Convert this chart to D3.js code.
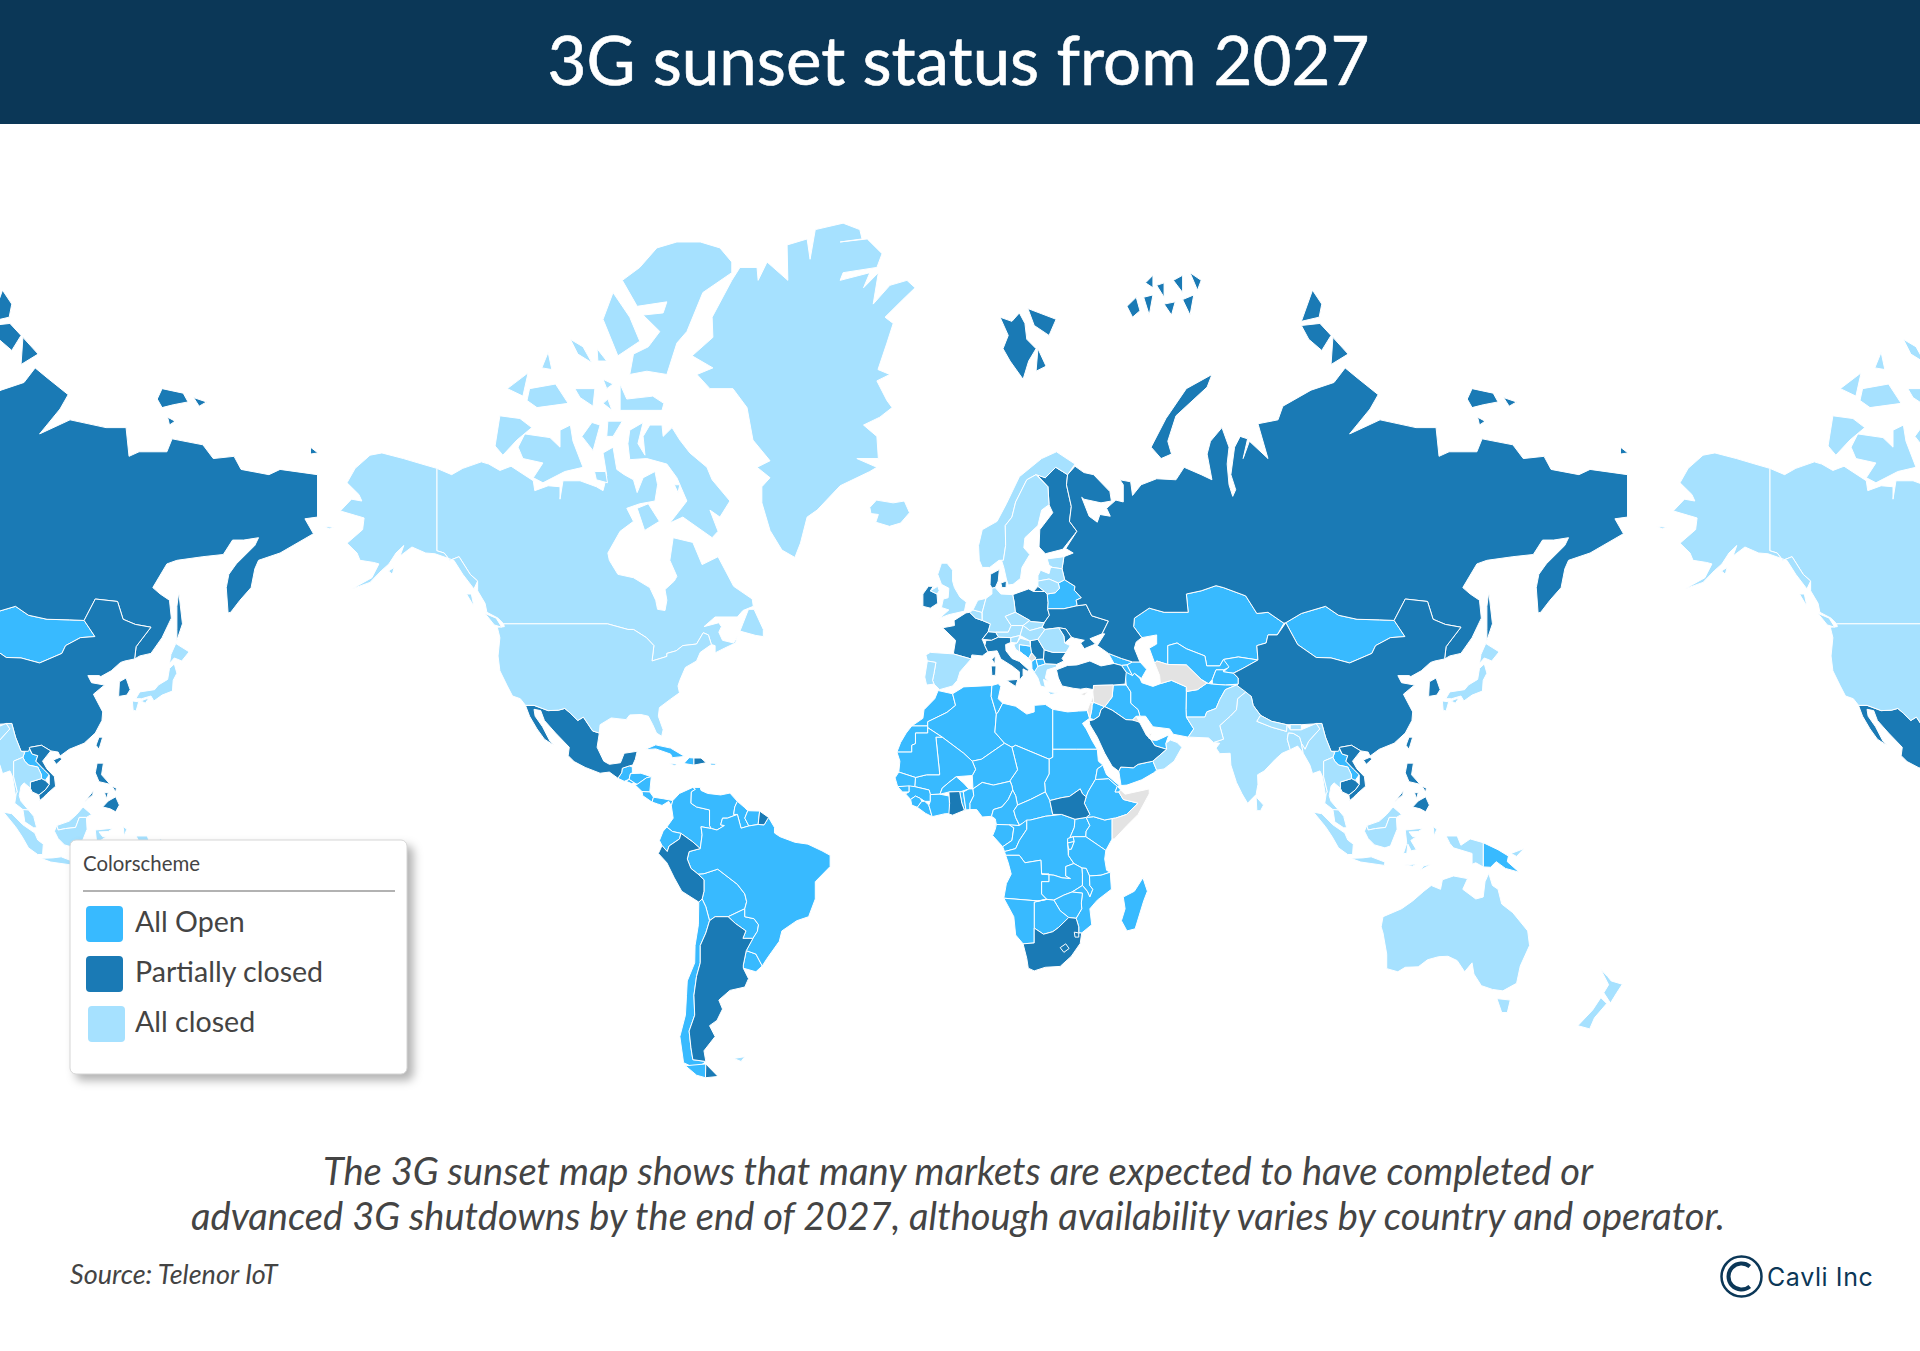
<!DOCTYPE html>
<html>
<head>
<meta charset="utf-8">
<title>3G sunset status from 2027</title>
<script src="https://cdn.jsdelivr.net/npm/d3@7"></script>
<style>
  html, body { margin: 0; padding: 0; background: #fff; }
  svg { display: block; }
  text { font-family: Lato, sans-serif; }
</style>
</head>
<body>
<svg id="chart" width="1920" height="1351"></svg>
<script>
// lon,lat outlines, one list per status
const allOpen = [
  ["Guatemala", "-92.2,14.6 -91.2,16 -91,17.2 -89.1,17.8 -88.3,17.5 -88.3,16 -88.8,15.8 -89.2,14.3 -90.5,13.8"],
  ["Honduras", "-88.8,15.8 -86,15.9 -83.2,15 -84.5,14.7 -87,13 -87.8,13.4 -89.2,14.3"],
  ["El Salvador", "-90,13.8 -89.2,14.3 -87.8,13.4 -88.5,13.2"],
  ["Nicaragua", "-83.2,15 -83.6,11 -85.7,11.1 -87.6,12.9 -87,13 -84.5,14.7"],
  ["Costa Rica", "-83.6,11 -82.6,9.6 -83,8.3 -85.5,10 -85.7,11.1"],
  ["Panama", "-82.6,9.6 -80,9.2 -77.4,8.7 -77.8,7.3 -78.5,8.5 -80.3,7.4 -81.5,7.8 -83,8.3"],
  ["Cuba", "-85,21.9 -82,23.1 -78,22.3 -74.2,20.2 -77.5,19.9 -78,20.8 -82,22.1"],
  ["Haiti", "-74.4,18.4 -71.7,18 -71.7,19.8 -73,19.9"],
  ["Jamaica", "-78.3,18.4 -76.3,18.2 -76.8,17.8"],
  ["Puerto Rico", "-67.2,18.5 -65.6,18.4 -66,18 -67.2,18"],
  ["Colombia", "-77.4,8.7 -75.6,10.6 -72,12.2 -71.3,11.7 -72.4,11 -72.5,8 -71,7 -67.5,6.2 -67.5,2 -67,1.2 -69.8,1.7 -69.5,-0.5 -70,-4.2 -72,-2.4 -75.2,-0.1 -77.5,0.4 -79,1.6 -77.3,4 -77.8,7.3"],
  ["Venezuela", "-72,12.2 -70,12.2 -69.8,11.4 -68,10.6 -64.5,10.2 -62,10.7 -60,8.5 -60.7,7 -61,5 -60,5 -62.7,4 -64,4 -64.5,2.2 -63.5,2 -65.5,0.8 -67,1.2 -67.5,2 -67.5,6.2 -71,7 -72.5,8 -72.4,11 -71.3,11.7"],
  ["Guyana", "-60,8.5 -58,6.8 -57.2,6 -58,4 -56.9,1.9 -59,1.3 -60,5 -61,5 -60.7,7"],
  ["Suriname", "-57.2,6 -54,5.9 -54.4,2.3 -56.9,1.9 -58,4"],
  ["Ecuador", "-79,1.6 -77.5,0.4 -75.2,-0.1 -75.6,-1.6 -78.4,-3.5 -78.9,-5 -80.3,-3.4 -81,-2 -80,0.5"],
  ["Bolivia", "-69,-12.5 -70.6,-11 -69,-10.9 -65.3,-9.7 -60,-13.7 -58,-16.2 -57.5,-18.2 -58,-20 -62.5,-22 -66,-22 -67.5,-23 -68.5,-19.5 -69.5,-17.5 -69,-15.5"],
  ["Paraguay", "-58,-20 -62.5,-22 -60.5,-23.7 -57.7,-25.5 -58.5,-27.3 -55.8,-27.3 -54.6,-25.6 -54.3,-24 -55.5,-22.5 -58,-22"],
  ["Uruguay", "-58.4,-33.5 -57.6,-30.2 -55,-31 -53.3,-33.7 -55,-35 -58.4,-34.2"],
  ["Brazil", "-51.6,4.2 -50,1.5 -50,0 -48.5,-1 -44.5,-2.5 -41,-3 -37.2,-4.8 -35,-6 -35,-9 -39,-13 -39,-17.5 -40.8,-22 -44,-23 -48,-25.5 -48.7,-28 -52,-32 -53.3,-33.7 -55,-31 -57.6,-30.2 -55.8,-27.3 -54.6,-25.6 -54.3,-24 -55.5,-22.5 -58,-22 -58,-20 -57.5,-18.2 -58,-16.2 -60,-13.7 -65.3,-9.7 -69,-10.9 -70.6,-11 -72.5,-9.5 -73.5,-7 -73,-5 -70,-4.2 -69.5,-0.5 -69.8,1.7 -67,1.2 -65.5,0.8 -63.5,2 -64.5,2.2 -64,4 -62.7,4 -60,5 -59,1.3 -56.9,1.9 -54.4,2.3 -52.8,2.2"],
  ["Chile", "-70.4,-18.3 -69.5,-17.5 -68.5,-19.5 -67.5,-23 -68.5,-26 -70,-29 -70,-33 -71,-36 -71.7,-40 -71.5,-44 -73,-47 -72.5,-50 -72,-52 -68.5,-52.3 -71,-53.5 -74.5,-52.5 -75.5,-48 -74,-44 -73.7,-40 -73.5,-37 -71.5,-33 -71.4,-29 -70.5,-24"],
  ["Tierra del Fuego W", "-68.5,-52.7 -68.6,-54.9 -71,-54.5 -74,-53"],
  ["Belarus", "23.5,54 25.7,54.2 26.8,54.9 26.5,55.7 28.2,56.2 31,55.2 30.8,54.6 32.7,53.4 31.3,53 31.6,52.1 28,51.6 23.6,51.6 23.7,52.6"],
  ["Bosnia", "16,45.2 19,44.9 19.3,43.6 18.5,42.5 16,43.9"],
  ["Albania", "19.3,41.9 20.5,42.5 21,40.7 20,39.7 19.4,40.5"],
  ["North Macedonia", "20.5,42.3 22.5,42.4 23,41.4 21,40.9"],
  ["Morocco", "-5.9,35.8 -2,35.1 -1.2,32.5 -3.5,30.9 -8.7,28.7 -8.7,27.7 -13,27.7 -10,29.5 -9.7,31.5 -6.8,34"],
  ["Western Sahara", "-13,27.7 -8.7,27.7 -8.7,26 -12,26 -12,23.4 -13,23 -13,21.3 -17,21.3 -16,23.7 -14.5,26"],
  ["Algeria", "-2,35.1 1,36.6 8.6,36.9 8.4,34.5 9.8,30.5 9.4,26.2 12,23.5 5.8,19.5 3.3,19 1,21 -4.8,25 -8.7,27.3 -8.7,28.7 -3.5,30.9 -1.2,32.5"],
  ["Tunisia", "8.6,36.9 10.3,37.3 11,36.7 10.3,34 11.5,33 10.3,31 9.8,30.5 8.4,34.5"],
  ["Libya", "11.5,33 15,32.3 18,30.5 20,31 20,32.5 23,32.7 25,31.6 25,20 24,19.5 15,23 14,22.5 12,23.5 9.4,26.2 9.8,30.5 10.3,31"],
  ["Egypt", "25,31.6 29,31 32,31.2 34.3,31.3 34.9,29.5 33,28.3 34,27 35.7,24 37,22 31.5,22 25,22"],
  ["Sudan", "25,22 31.5,22 37,22 37.3,19 38.5,18 37,17 36.5,14.3 34.5,11 34,9.7 33,10.5 32.4,11.8 29.5,9.8 27.5,9.5 24.2,8.7 23,11 22.8,13.5 24,15.7 24,19.5 25,20"],
  ["Chad", "14,22.5 15,23 24,19.5 24,15.7 22.8,13.5 23,11 19,9 15.5,7.5 15,10 14.2,11.5 14,12.6 13.5,14 15.5,16.8"],
  ["Niger", "3.3,15.3 3.5,11.8 6,13.5 9,12.8 13.5,13.8 13.5,14 15.5,16.8 14,22.5 12,23.5 5.8,19.5 3.3,19 4.2,16.9"],
  ["Mali", "-12,14.8 -12.2,12.4 -8.3,11.5 -8,10.3 -5.4,10.4 -4.8,12 -3,13.5 -1,15 3.3,15.3 4.2,16.9 3.3,19 1,21 -4.8,25 -6.5,25 -5.5,16 -5.5,15.5 -9,15.5"],
  ["Mauritania", "-17,21.3 -13,21.3 -13,23 -12,23.4 -12,26 -8.7,26 -8.7,27.3 -4.8,25 -6.5,25 -5.5,16 -5.5,15.5 -9,15.5 -12,14.8 -16.5,16.2 -16.2,19"],
  ["Senegal", "-16.5,16.2 -12,14.8 -12.2,12.4 -16.8,12.4 -17.5,14.7"],
  ["Guinea Bissau", "-16.8,12.4 -13.7,12.6 -13.7,11 -15.5,11"],
  ["Guinea", "-13.7,12.6 -12.2,12.4 -8.3,11.5 -8,10.3 -8,8.5 -9.5,8.5 -10.7,9.3 -12,9.9 -13.3,9 -14.7,10.5 -13.7,11"],
  ["Sierra Leone", "-13.3,9 -12,9.9 -10.7,9.3 -10.3,8.5 -11.5,6.9 -13,7.5"],
  ["Liberia", "-11.5,6.9 -10.3,8.5 -9.5,8.5 -8.4,7.5 -7.5,4.4 -9.3,5.3"],
  ["Ivory Coast", "-8,10.3 -5.4,10.4 -2.9,9.9 -2.8,5.2 -4,5.2 -7.5,4.4 -8.4,7.5 -8,8.5"],
  ["Burkina Faso", "-5.4,10.4 -2.9,11 0,11 2.4,11.8 1,13.3 -1,15 -3,13.5 -4.8,12"],
  ["Togo", "-0.1,11.1 0.9,11 1.6,6.2 1.2,6.1 0.5,8"],
  ["Benin", "0.9,11 2.4,11.8 3.5,11.8 3.7,10 2.7,8 2.7,6.3 1.6,6.2"],
  ["Nigeria", "2.7,6.3 4.5,6.3 6,4.3 8.5,4.5 9,6.3 11.3,7 13,9 14.2,11.5 14,12.6 13.5,13.8 9,12.8 6,13.5 3.5,11.8 3.7,10 2.7,8"],
  ["Cameroon", "8.5,4.5 9.5,3.8 9.8,2.3 16,2 15,4.2 14.5,6 15.5,7.5 15,10 14.2,11.5 13,9 11.3,7 9,6.3"],
  ["Central African Republic", "15,4.2 14.5,6 15.5,7.5 19,9 23,11 24.2,8.7 25,5 27.4,5 23,4.5 19,3.5 16,2.2"],
  ["Equatorial Guinea", "9.5,2.2 11.3,2.2 11.3,1 9.5,1"],
  ["Gabon", "9.8,2.3 13.3,2.2 14.5,1.4 14,-2 11.5,-3.7 8.8,-0.7 9.5,1"],
  ["Congo", "13.3,2.2 16,2 18,3.5 18,1 16,-2 15,-4.2 12,-5 11.5,-3.7 14,-2 14.5,1.4"],
  ["DR Congo", "18,3.5 19,3.5 23,4.5 27.4,5 31,3.7 30.8,1.5 29.6,-1.3 29,-2.7 29.2,-6 30.7,-8.2 28.5,-9 28.5,-11.5 29.8,-12.2 27.5,-12 25.3,-11.3 22,-11 21.8,-7.3 17.5,-8 16,-6 12.3,-6 12,-5 15,-4.2 16,-2 18,1"],
  ["Uganda", "31,3.7 34,4.2 35,2 34,0.5 33.9,-1 30.5,-1 29.6,-1.3 30.8,1.5"],
  ["Rwanda", "29,-1.5 30.5,-1 30.8,-2.3 29,-2.7"],
  ["Burundi", "29,-2.7 30.8,-2.3 30,-4.4 29.3,-4.4"],
  ["Kenya", "34,4.2 36,4.4 39,3.5 41,3.9 41,-1.6 39.3,-4.7 37.7,-3.6 33.9,-1 34,0.5 35,2"],
  ["Tanzania", "30.5,-1 33.9,-1 37.7,-3.6 39.3,-4.7 39,-7 39.5,-10 40.5,-10.5 38,-11.3 34.9,-11.5 34,-9.5 32.9,-9.4 30.7,-8.2 29.2,-6 29.3,-4.4 30,-4.4 30.8,-2.3"],
  ["Ethiopia", "36.5,14.3 37,14.3 40,14.5 42.4,12.5 41.8,11 42.8,11 44,9 48,8 44.9,5 41.9,4 41,3.9 39,3.5 36,4.4 34,4.2 35,5 33.5,8 34,9.7 34.5,11"],
  ["Eritrea", "37,17 38.5,18 39.5,15.5 43,12.6 42.4,12.5 40,14.5 37,14.3 36.5,14.3"],
  ["Djibouti", "41.8,11 42.4,12.5 43.3,11.5 42.8,11"],
  ["Angola", "12.3,-6 16,-6 17.5,-8 21.8,-7.3 22,-11 24,-11 24,-13 22,-13 22,-16.2 23.4,-17.6 21,-18 11.8,-17.3 12.5,-13.5 13.8,-11 13,-8"],
  ["Zambia", "22,-11 25.3,-11.3 27.5,-12 29.8,-12.2 28.5,-11.5 28.5,-9 30.7,-8.2 32.9,-9.4 33,-11 33,-14 30.2,-15.7 28,-16.5 25.3,-17.8 23.4,-17.6 22,-16.2 22,-13 24,-13 24,-11"],
  ["Malawi", "32.9,-9.4 34,-9.5 34.9,-11.5 35,-14 35.8,-15 35,-17 34.3,-15.5 33,-14 33,-11"],
  ["Mozambique", "40.5,-10.5 40.8,-15 37,-17.8 35,-20 35.5,-24 32.8,-26 32,-26 32,-24.5 31.3,-22.4 32.8,-20 32.7,-18.5 33,-16 30.2,-15.7 33,-14 34.3,-15.5 35,-17 35.8,-15 35,-14 34.9,-11.5 38,-11.3"],
  ["Zimbabwe", "25.3,-17.8 28,-16.5 30.2,-15.7 33,-16 32.7,-18.5 32.8,-20 31.3,-22.4 29.3,-22.2 27,-20.5"],
  ["Botswana", "20,-18.3 23.4,-17.6 25.3,-17.8 27,-20.5 29.3,-22.2 26.5,-24.7 25,-25.7 22.5,-26.3 20,-24.8"],
  ["Namibia", "11.8,-17.3 21,-18 23.4,-17.6 20,-18.3 20,-24.8 20,-28.4 17,-28.6 15,-26.5 14.5,-22"],
  ["Madagascar", "49.3,-12 50.5,-15.5 49.5,-18 47.2,-25 45,-25.5 43.5,-23 44.5,-20 44,-17 47,-15.5"],
  ["Mongolia", "87.8,49.2 92,50.8 98.5,52 102,50.5 107,49.8 113,49.7 117,49.6 119.9,46.7 116,46.5 112,45 111,43.5 105,41.6 100,42.6 96,42.7 91,45.2"],
  ["Kazakhstan", "47,50 51,51.7 55,51 61.5,51 61,54 65,54.5 69,55.3 71,55 77,53.7 80,50.8 83,51 87.3,49.1 85.5,47 83,47 82.5,45.5 80,45 80.3,42.2 75,42.8 71,42.3 70,41 66.5,41 66,43 61,44.4 58.5,45.5 56,45 56,41.3 53,42 52.5,41.5 51,44.5 53,45.3 53,47 49,46.5 46.8,48.5"],
  ["Uzbekistan", "56,45 58.5,45.5 61,44.4 66,43 66.5,41 70,41 71,42.3 73,40.8 71,40.2 69,40.2 68,38.2 67,37.3 65,38.2 61,41.2 56,41.3"],
  ["Kyrgyzstan", "71,42.3 75,42.8 80.3,42.2 76,40.4 73.6,39.5 71,39.8 72.5,40.8"],
  ["Tajikistan", "68,38.2 69,40.2 71,40.2 71,39.8 73.6,39.5 75,38.5 75,37.2 71.5,37 68,37.2"],
  ["Afghanistan", "61,35.6 64,36 66.5,37.4 68,37.2 71.5,37 74.5,37 71.5,36 70,33.8 69,31.8 66.5,31 66,29.8 61,29.8 60.9,31.5"],
  ["Iran", "44.5,39.7 47,39.5 48.5,38.4 49,37.5 52,36.7 54,37.3 57,38 61,36.6 61,35.6 60.9,31.5 61,29.8 63,27 61.5,25 57.5,25.7 56.5,27 52,27.5 50,30 48.5,30 48,31.5 46,33 46,35.5 44.8,37"],
  ["Iraq", "44.8,37 46,35.5 46,33 48,31.5 48.5,30 47.5,30 46.5,29.1 44.7,29.2 41,31.4 39,32.2 41,34.4 41.3,37"],
  ["Jordan", "35,29.5 36.1,29.2 37.5,30 38,31.5 39,32.2 36,33.2 35.6,32.5 35.5,31.5"],
  ["Yemen", "42.8,16.4 43.4,12.7 45,12.8 49,14.2 52.2,16 53,16.7 52,19 48,18.2 46.7,17.3 43.3,17.5"],
  ["UAE", "51.5,24.3 52.5,22.9 55.7,22 55.5,23.5 56.3,25.6 55,25 53,24.2"],
  ["Georgia", "40,43.5 43.5,42.5 46.5,41.8 45,41.2 43.5,41.1 41.5,41.5"],
  ["Armenia", "43.5,41.1 45,41.2 46.5,39 44.8,39.7"],
  ["Azerbaijan", "45,41.2 46.5,41.8 48.5,41.8 50.3,40.3 48.9,38.4 47,39.5 46.5,39"],
  ["Laos", "100.5,20 101,21.3 102,22.4 103,20.8 104.5,20.4 104,19 106,17 107.6,15.5 106.5,14 105.5,14.5 105.5,15.5 104.5,17.5 102,18 101,19"],
  ["Papua New Guinea", "141,-2.6 145,-4.5 147.8,-6.2 147.5,-7.7 150.7,-10.5 147,-9.5 144.5,-7.7 143,-9.2 141,-9.1"]
];

const partiallyClosed = [
  ["Mexico", "-117.1,32.5 -114.8,32.5 -111,31.3 -108.2,31.4 -106.5,31.8 -105,30.7 -103,29 -101.5,29.8 -99,26.5 -97.2,26 -97.8,22.5 -96,19 -94.5,18.2 -91.5,18.6 -90.5,21 -87,21.5 -87.5,19.5 -88.2,18 -89.1,17.8 -91,17.2 -91.2,16 -92.2,14.6 -94.5,16.2 -97,15.9 -101,17.4 -104,18.9 -105.6,20.4 -105.3,22.5 -109,26 -112,29 -113,31.3 -114.8,31.6 -114.5,30 -112.5,27.5 -110.5,24 -109.5,23 -112,24.5 -114,27 -116,30"],
  ["Dominican Republic", "-71.7,18 -68.4,18.6 -69.8,19.8 -71.7,19.8"],
  ["French Guiana", "-54,5.9 -51.6,4.2 -52.8,2.2 -54.4,2.3"],
  ["Peru", "-80.3,-3.4 -78.9,-5 -78.4,-3.5 -75.6,-1.6 -75.2,-0.1 -72,-2.4 -70,-4.2 -73,-5 -73.5,-7 -72.5,-9.5 -70.6,-11 -69,-12.5 -69,-15.5 -69.5,-17.5 -70.4,-18.3 -75,-15.5 -77,-12 -79,-8 -81.3,-5.5"],
  ["Argentina", "-66,-22 -62.5,-22 -60.5,-23.7 -57.7,-25.5 -58.5,-27.3 -55.8,-27.3 -57.6,-30.2 -58.4,-33.5 -58.4,-34.2 -57,-36.5 -58,-38.3 -62,-39 -65,-41 -64,-42.8 -65.5,-45 -67.5,-46 -66,-48 -69,-50.5 -68.5,-52.3 -72,-52 -72.5,-50 -73,-47 -71.5,-44 -71.7,-40 -71,-36 -70,-33 -70,-29 -68.5,-26 -67.5,-23"],
  ["Tierra del Fuego E", "-68.5,-52.7 -65.2,-54.7 -68.6,-54.9"],
  ["Ireland", "-10,52 -10,54 -8.5,55.2 -7.2,55.2 -8,54.5 -6.2,54 -6,52.5 -8,51.7"],
  ["France", "-1.8,43.4 -1.2,46 -4.7,48.3 -1.5,48.7 -1.6,49.6 1.6,50.9 2.6,51 4.2,50 6,49.6 8.2,49 7.6,47.6 6,46.2 6.7,45 7.5,43.8 6,43 3.2,43.2 3,42.4"],
  ["Corsica", "8.6,42.3 9.5,43 9.4,41.4"],
  ["Switzerland", "6,46.2 7.6,47.6 9.6,47.5 10.4,46.6 8.5,46"],
  ["Italy", "6.7,45 7,46 8.5,46 10.4,46.6 13.7,46.5 13.7,45.6 12.3,45.2 12.4,44 14,42.5 16,41.9 18.5,40.2 18.2,39.9 17,40.4 17,39 16,38 16,39.8 14,41 11,42.4 10,44 7.5,43.8"],
  ["Sicily", "12.5,38 15.6,38.2 15,36.7"],
  ["Sardinia", "8.4,41 9.7,41 9.6,39.1 8.6,39"],
  ["Denmark", "8.1,55.5 8.2,57 10.6,57.7 10.3,56 9.5,55 8.6,54.9"],
  ["Zealand", "11,55.7 12.5,56 12.4,55 11.3,55"],
  ["Poland", "14.2,53.9 18.5,54.8 19.8,54.4 22.8,54.4 23.5,54 23.7,52.6 23.6,51.6 24.1,50.5 22.7,49.2 19,49.4 18.8,49.6 14.9,51 14.6,52.7"],
  ["Ukraine", "24.1,50.5 23.6,51.6 28,51.6 31.6,52.1 34,52.3 35.5,50.4 38,49.9 40,49.5 38.3,47.2 35,46.3 36.5,45.3 33.5,44.4 32.5,45.5 33.5,46 30.8,46.4 30,46.6 28.5,48.1 26.6,48.3 22.9,48 22.1,48.4 22.7,49.2"],
  ["Moldova", "26.6,48.3 28.5,48.1 30,46.6 28.2,45.5 28,46.8"],
  ["Finland", "20.7,69 23,68.7 25.8,69.7 29,69 28.7,68 30,65.7 29.5,64 31.5,62.8 27.7,60.5 23,59.9 21.3,60.8 21.5,63 25,65 24,65.9 23.7,67.8"],
  ["Spitsbergen", "10.8,79.9 14,79.7 16,80.1 17.5,79.6 18,78.8 20.5,78.3 18.5,77.6 17,76.5 13.5,77.6 11.6,78.3 13,79"],
  ["Nordaustlandet", "18.3,80.3 25.9,79.8 24,79 20,79.5"],
  ["Edgeoya", "21,78.3 23.2,77.3 20.5,77"],
  ["Russia", "31,69.8 33.4,69.2 36,69 40.4,67.3 40.8,66.3 38,66.1 33.4,66.5 32.8,66.7 34.8,64.6 37,63.9 37.7,64.8 40.5,64.6 39.5,65.5 42,66.4 44,66.2 44,68 43.1,68.5 46,68.3 46.5,66.9 48.8,68 53,68.6 58.2,68.5 60.4,69.7 65,69 67.9,68.5 66.6,70.9 67.5,72 70.6,73.1 72.5,71.5 72,70 72.5,68 73.5,66.8 74.3,67.5 73,69 74,71.5 75.5,72.4 77.5,72.2 76.3,70.5 78,72 83,70.5 80.3,73.4 85.7,73.7 87,74.7 94.6,75.8 100.8,76.3 103.8,77.2 107,76.6 112.7,75.5 110.5,74.5 105,72.6 113.2,73.7 122.9,73.1 128.3,73.1 129.1,70.7 131.8,71.1 139.3,71.1 140.7,72.2 149,71.7 151.8,70.5 157.4,70.7 159.3,69.5 166.8,69 169.8,69.5 179.9,69 179.9,64.5 176.5,64.3 178.8,62.5 169.8,60 164,59 163,57.8 162,55 159,53 156.5,51 155.8,50.9 155.3,55 156,57 158,58.5 163,61 164,62 160,61.7 157,61.7 154.5,59.8 149,59.5 142,59 139.3,58.5 135.5,55 137.5,54 140,53 140.5,50 138,46.5 135,43.5 132,43 130.6,42.4 131,44.8 135,48.4 130.8,48.9 127.5,49.8 126,52.8 120,53.2 117,49.6 113,49.7 107,49.8 102,50.5 98.5,52 92,50.8 87.8,49.2 87.3,49.1 83,51 80,50.8 77,53.7 71,55 69,55.3 65,54.5 61,54 61.5,51 55,51 51,51.7 47,50 46.8,48.5 49,46.5 47.5,45.7 47,44.5 48.5,41.8 46.5,41.8 43.5,42.5 40,43.5 37,45 39,47.2 38.3,47.2 40,49.5 38,49.9 35.5,50.4 34,52.3 31.6,52.1 31.3,53 32.7,53.4 30.8,54.6 31,55.2 28.2,56.2 27.5,57.8 28,59.5 30.5,60 28.5,60.6 31.5,62.8 29.5,64 30,65.7 28.7,68 29,69"],
  ["Novaya Zemlya", "67.9,76.8 61,75.9 55.5,73.8 51.5,71.5 54.2,70.5 57,70.9 56,72 58.2,74 66.6,76"],
  ["Komsomolets", "95,81.1 97.5,80.5 96.8,79.9 92,79.7"],
  ["October Revolution", "92,79.5 97,79.6 100,79 97.5,78.2 94,78.8"],
  ["Bolshevik", "100.5,78.9 104.6,78 100,77.4"],
  ["Kotelny", "136.7,75.2 138,75.9 143.7,75.6 145,75 141,74.8 138,74.6"],
  ["New Siberia", "146.5,75.3 150,75 148,74.7"],
  ["Lyakhovsky", "139.5,73.9 141.5,73.6 140,73.3"],
  ["Wrangel", "178,71.5 180,71 178,70.9"],
  ["Sakhalin", "142.5,54.3 143.5,49 142,46 142,48 142,52"],
  ["Kaliningrad", "19.8,54.4 22.8,54.4 21,55.2"],
  ["Franz Josef 1", "45,80.4 47.5,80.8 48.5,80.2 46.5,79.9"],
  ["Franz Josef 2", "49.5,80.8 52,80.9 51,80"],
  ["Franz Josef 3", "53,81.3 55,81.4 55,80.8"],
  ["Franz Josef 4", "55,80.5 58,80.6 57,80"],
  ["Franz Josef 5", "57.5,81.5 60,81.7 60,81"],
  ["Franz Josef 6", "60,80.7 63,80.9 62,80"],
  ["Franz Josef 7", "62,81.8 65,81.5 64,81.1"],
  ["Franz Josef 8", "50,81.4 52,81.7 52,81.2"],
  ["Turkey", "26,40.2 29,41.1 31.5,41.2 35,42 38,41 41.5,41.5 43.5,41.1 44.8,39.7 44.5,37.2 41.3,37 36,36.9 36,36 34,36.3 32.5,36.1 30.5,36.3 27.5,36.8 26.5,38.5"],
  ["Serbia", "19,46 21,46.2 22.7,44.2 22.5,42.4 20.5,42.3 19.3,43.6 19,44.9"],
  ["Bulgaria", "22.7,44.2 25,43.7 28.6,43.7 27.5,42.5 28,42 26,41.3 23,41.4 22.5,42.4"],
  ["Saudi Arabia", "35,28 37,25 39,21 41,17.7 42.8,16.4 43.3,17.5 46.7,17.3 48,18.2 52,19 55.7,22 52.5,22.9 51.5,24.3 50.2,25.5 48.5,28.4 47.5,29.2 46.5,29.1 44.7,29.2 41,31.4 39,32.2 38,31.5 37.5,30 36.1,29.2 34.8,28.9"],
  ["South Sudan", "24.2,8.7 27.5,9.5 29.5,9.8 32.4,11.8 33,10.5 34,9.7 33.5,8 35,5 34,4.2 31,3.7 27.4,5 25,5"],
  ["Ghana", "-3,11 -0.1,11.1 0.5,8 1.2,6.1 -2,4.8 -3,5.1 -2.8,8"],
  ["South Africa", "17,-28.6 20,-28.4 20,-24.8 22.5,-26.3 25,-25.7 26.5,-24.7 29.3,-22.2 31.3,-22.4 32,-24.5 32,-26 32.8,-26 32.4,-28.5 30,-31.5 27,-33.8 23,-34 20,-34.8 18.4,-34.2 18,-32"],
  ["Lesotho", "27,-29.5 28.5,-28.6 29.4,-29.7 28,-30.6"],
  ["Eswatini", "30.8,-25.8 32,-26 32,-27 31,-27"],
  ["China", "73.7,39.5 75,38.5 75,37.2 74.5,37 76,35.7 78.5,34.5 79,32.5 81,30.2 84,28.8 88,28 92,28 97.5,28.3 98.5,25 100,21.5 102,21.5 102.5,22.5 105.5,23 108,21.6 110,21.3 110.5,20.3 113,22 117,23.5 120,26 121.8,29 122,31 119.5,35 122.5,37 119,37.5 118,39 121,39 121.5,38.8 124.3,40 126.8,41.7 128,42 130.6,42.4 131,44.8 135,48.4 130.8,48.9 127.5,49.8 126,52.8 120,53.2 117,49.6 119.9,46.7 116,46.5 112,45 111,43.5 105,41.6 100,42.6 96,42.7 91,45.2 87.8,49.2 85.5,47 83,47 82.5,45.5 80,45 80.3,42.2 76,40.4"],
  ["Hainan", "108.7,19.3 110.5,20 111,19.5 109.5,18.2"],
  ["Taiwan", "121,25 122,25 121,22 120.2,23"],
  ["South Korea", "126.5,37.7 128.3,38.5 129.4,36 128.5,34.8 126.3,34.5"],
  ["Vietnam", "102.2,22.4 102.5,22.5 105.5,23 108,21.6 105.8,19 107,17 109,15 109.3,12.5 107,10.5 106,9.5 105,8.7 104.8,10.2 106.5,11.5 107.6,13 107.6,15.5 106,17 104,19 104.5,20.4 103,20.8"],
  ["Cambodia", "102.5,13.6 105.5,14.5 106.5,14 107.6,13 106.5,11.5 104.8,10.2 103,11 102.5,12"],
  ["Luzon", "120.5,18.5 122.2,18.5 121.7,15.5 124,13 121,13.7 120,16"],
  ["Mindanao", "122,7 123.5,8.6 125.5,9.7 126.5,7.5 125.5,5.7 124,6.5"],
  ["Samar", "124.5,12.5 125.7,12 125.5,11"],
  ["Negros", "122.5,10.8 123.5,10.8 123,9.2"],
  ["Palawan", "117.2,8.4 119.5,11.3 119.3,10.2"]
];

const allClosed = [
  ["Canada", "-141,69.6 -137,69 -134,69.6 -129,70.2 -127,70 -124,69.4 -121,69.8 -115,68.4 -114.6,67.4 -111,67.9 -107.8,67.8 -107.8,66.5 -107,68.4 -102.4,68.4 -98,67.8 -96.2,67.4 -95.2,68.9 -96.2,71 -93.5,71.5 -92.5,69.5 -90.5,69 -88,68.5 -87,67.2 -85.4,68.7 -82.2,69.3 -81.5,68 -82.2,66.3 -86.3,66 -89.8,65.5 -88,64 -91.6,62.8 -94.9,60 -94.5,59 -92.2,57 -88,56.5 -83.6,55 -82,53 -81.5,51.5 -79.5,51.3 -79,53 -79.5,54.7 -77,56 -76.3,56.7 -78.2,59 -77.3,62 -72,61.4 -69.5,58.4 -65.2,59.5 -61,55.2 -56,53.2 -55.7,52 -58.5,51.3 -60,50.2 -66,50.2 -69,48.5 -65,49.2 -64.3,48.5 -65,47.5 -64,46 -61,45.5 -60,46.8 -60.5,45.5 -63.5,44.5 -66,43.6 -66,45 -67,45.2 -67.8,47 -69.2,47.4 -71,45.3 -74.7,45 -76.5,44 -79,43.5 -79,42.9 -83,42 -82.5,45 -84.5,46.5 -88,48 -89.5,48 -95,49 -123,49 -124.5,50 -127.5,51 -128,52.5 -130,54.5 -130,56 -132,57 -135,59.5 -137.5,59 -139,60 -141,60.3"],
  ["Alaska", "-141,69.6 -145,70 -150,70.5 -155.8,71 -159,70.8 -163,69.6 -165.2,68.2 -162,67 -161.2,66.3 -164,66.5 -167,65.2 -163,64.7 -160.6,64.4 -161,63 -165.2,61.3 -162.5,60 -161.7,59 -158,58.7 -156.6,58.5 -158.5,56.5 -163.9,54.8 -159,55.8 -156,57.5 -153.9,58.5 -152,60 -149.9,61 -150.9,59.6 -147.7,60.8 -144,60 -141.5,59.9 -136.4,59 -134,57 -131,54.8 -130,56 -132,57 -135,59.5 -137.5,59 -139,60 -141,60.3"],
  ["Kodiak", "-154,57.5 -152.5,58 -153,57"],
  ["St Lawrence", "-171.5,63.4 -168.8,63.3 -170,63.1"],
  ["USA", "-123,49 -95,49 -89.5,48 -88,48 -84.5,46.5 -82.5,45 -83,42 -79,42.9 -79,43.5 -76.5,44 -74.7,45 -71,45.3 -69.2,47.4 -67.8,47 -67,45.2 -70,43.7 -71,42 -74,40.7 -75.5,38 -76,36.8 -75.6,35.3 -78,33.9 -81,32 -81.3,30 -80,26.8 -80.4,25.2 -81.8,26 -82.8,28 -84,30 -86,30.4 -89,30.3 -90,29.2 -94,29.6 -97,28 -97.2,26 -99,26.5 -101.5,29.8 -103,29 -105,30.7 -106.5,31.8 -108.2,31.4 -111,31.3 -114.8,32.5 -117.1,32.5 -118.5,34 -120.6,34.6 -122,36.8 -124,40 -124.5,43 -124,46.5 -124.7,48.4 -122.8,48.5"],
  ["Greenland", "-44.5,59.4 -48,60.4 -51.2,62.9 -53.4,66.1 -53.4,67.8 -51.2,68.7 -54.7,69.7 -51.2,70.3 -55.8,72.1 -57.4,74.6 -61.2,75.9 -67.4,75.9 -70.9,76.8 -66.6,77.2 -72.2,77.9 -66.6,78.9 -66.8,79.9 -61.5,81.5 -59.3,82 -54.7,82 -54.4,81.5 -52,82.2 -46.4,81.5 -46.6,82.8 -41.2,83 -40.4,82.3 -39,83.3 -31.5,83.5 -27,83.3 -26.4,83 -32.3,82.9 -25,83 -21,82.5 -22.4,82 -31.5,81.8 -32.3,81.5 -24.3,81.8 -26,81.2 -22,81.8 -23.4,80.5 -18.9,81.3 -14.3,81.5 -12.1,81.2 -15.4,80.7 -20.2,79.9 -18,79.6 -19.7,78.6 -22.1,77.1 -18.9,76.8 -22.4,76.4 -19.7,75.1 -18.3,74.6 -21.6,73.9 -26,73.3 -22.4,72.4 -22,70.5 -27.8,70.5 -22.4,69.7 -24.3,69.3 -32.3,67.9 -38.5,65.3 -41.2,64.5 -43,61.3"],
  ["Ellesmere", "-61.5,82.2 -64.7,82.7 -70,82.9 -76.3,82.9 -81.7,82.7 -86.3,82 -91,81.5 -87,80.4 -79,80.6 -80,80.1 -85.4,80 -80.9,79.2 -84,78.4 -88,78 -89,76.8 -84.4,77 -79,76.8 -76.3,78.6 -73.6,79.2 -69.3,81 -61.5,81.8"],
  ["Axel Heiberg", "-93.5,81 -96.2,79.8 -92.2,77.9 -86.3,78.7 -89,79.9"],
  ["Devon", "-91.6,76.2 -89.8,75.2 -82.8,75.4 -79.8,74.9 -80.3,74.4 -91.6,74.4"],
  ["Baffin", "-89.5,71.8 -89,72.9 -85.4,73.5 -86.8,71.8 -84.9,70.8 -85.4,72.4 -83.6,73.3 -80.3,73.3 -80,72.4 -77.6,73.1 -75.5,72.1 -72.8,71 -68.2,69.7 -66.8,68.5 -62,66.3 -64.7,64.5 -67.4,65.3 -65.2,62.8 -66.8,62 -74.7,64.5 -78.2,63.8 -73.6,66.3 -76.3,68.7 -79,70 -84.4,70.5 -89,70.4"],
  ["Somerset", "-94.9,73.6 -91,73.6 -93.5,72.4 -95.2,72.4"],
  ["Prince of Wales", "-101.9,72.4 -99.2,73.5 -97,73.3 -98.9,71.2"],
  ["Victoria", "-119.1,71.5 -117.3,72.6 -110.5,72.3 -107.8,71.5 -107.8,72.9 -105,73.3 -104.3,72 -101.6,69.7 -106.5,69.3 -112.4,68.2 -115,68.7 -112.4,70.1 -117.8,70.5"],
  ["Banks", "-124,74 -118.6,73.8 -115.4,73.1 -119.4,72.1 -123.2,70.8 -125.3,71.6"],
  ["Melville", "-116,75.9 -109,76.2 -105.6,74.9 -114,74.6 -116.7,75.1"],
  ["Bathurst", "-103.8,75.9 -98.4,75.9 -98.9,74.7 -102.4,75.3"],
  ["Prince Patrick", "-116.4,76.9 -122,75.9 -117.8,75.4"],
  ["Ellef Ringnes", "-105,78.8 -101.6,78.4 -99.2,77.5 -103,78"],
  ["Amund Ringnes", "-97.8,78.3 -95.2,77.6 -97.6,77.6"],
  ["Borden", "-111,78.1 -110,77.1 -112.7,77.2"],
  ["Lowther", "-96.2,74.9 -94.9,75.2 -93.8,74.4"],
  ["Graham", "-96.2,76.5 -93.5,76.2 -95.2,75.9"],
  ["Prince Charles", "-77,68 -75.5,68 -76,67.2"],
  ["Southampton", "-87,65.5 -84,66 -81,64 -85,62.9"],
  ["King William", "-98.5,69.3 -95.5,69.3 -95,68.2 -98,68.5"],
  ["Newfoundland", "-59.3,47.7 -57,51.5 -55.5,51.5 -53,48 -53,46.7 -55,46.9"],
  ["Vancouver", "-128,50.8 -125,50 -123.5,48.4 -125.5,48.8"],
  ["Haida Gwaii", "-133,54 -131.7,54 -131,52"],
  ["Iceland", "-24.3,65.6 -22.5,66.4 -18,66.1 -15,66.3 -13.6,65 -16,63.8 -19,63.4 -22.7,63.9 -22,64.8 -24,64.9"],
  ["Falklands", "-61,-51.8 -58,-51.5 -59,-52.3"],
  ["Norway", "5.2,59 6,58 8,58 10.5,59 11.7,59 12.3,61 12.2,63.5 14,64.5 15,66.2 18,68.5 20.5,69 23,68.7 25.8,69.7 29,69 31,70 26,71.1 22,70.5 16,68.8 12.5,66 10,64 6,63 5,61"],
  ["Sweden", "11.2,59 11.7,59 12.3,61 12.2,63.5 14,64.5 15,66.2 18,68.5 20.5,69 23.7,67.8 24,65.9 22,65.3 21,63.5 17.5,62 17.2,60.7 18.8,59.8 16.7,58 16.3,56.4 14.3,55.5 13,55.4 12.5,56.3 11.8,58"],
  ["Estonia", "23.5,59.2 28,59.5 27.5,57.8 25,58 24,58.3"],
  ["Latvia", "21,56.8 21.7,57.6 24,57.1 24.4,58 25,58 27.5,57.8 28.2,56.2 26.5,55.7 24,56.3 21,56"],
  ["Lithuania", "21,56 24,56.3 26.5,55.7 26.8,54.9 25.7,54.2 23.5,54 22.8,54.4 21,55.2"],
  ["Great Britain", "-5.5,50 -3,50.6 1.2,51.2 1.7,52.7 0,53.5 -1.5,55 -2,56 -2,57.6 -3.5,58.6 -5,58.6 -6,57 -5,55.5 -3,54.9 -3.2,53.4 -4.5,53.2 -5,51.8 -3,51.4"],
  ["Northern Ireland", "-8,54.5 -6,55.2 -5.6,54.5 -6.2,54"],
  ["Spain", "-9.2,43.2 -8,43.7 -1.8,43.4 3,42.4 0,39.8 -0.7,38 -2,36.8 -5.5,36 -7,37.2 -7.4,38 -7,39.5 -6.5,41.7 -8.8,42"],
  ["Portugal", "-8.8,42 -6.5,41.7 -7,39.5 -7.4,38 -7,37.2 -9,37 -9.5,38.7"],
  ["Belgium", "2.6,51 3.5,51.4 5.9,51 6,49.6 4.2,50"],
  ["Netherlands", "3.5,51.4 4.8,53 7,53.3 6,51 5.9,51"],
  ["Germany", "6,51 7,53.3 8.6,54 8.6,54.9 9.5,55 11,54 14.2,53.9 14.6,52.7 14.9,51 12.2,50.3 13.8,48.7 13,47.5 9.6,47.5 7.6,47.6 8.2,49 6,49.6"],
  ["Austria", "9.6,47.5 13,47.5 13.8,48.7 17,48.7 16.2,46.9 13.7,46.5 10.4,46.6"],
  ["Czechia", "12.2,50.3 14.9,51 18.8,49.6 17,48.7 13.8,48.7"],
  ["Slovakia", "17,48.7 18.8,49.6 19,49.4 22.7,49.2 22.1,48.4 18.8,47.8"],
  ["Hungary", "16.2,46.9 17,48.7 18.8,47.8 22.1,48.4 22.9,48 21,46.2 18.8,45.9"],
  ["Romania", "22.9,48 26.6,48.3 28,46.8 28.2,45.5 29.7,45 28.6,43.7 25,43.7 22.7,44.2 21,46.2"],
  ["Slovenia", "13.7,46.5 16.2,46.9 15.4,45.5 13.7,45.6"],
  ["Croatia", "15.4,45.5 16.2,46.4 18.8,45.9 19,44.9 16,45.2 16,43.9 18.5,42.5 15,44.3 14.5,45.2"],
  ["Greece", "20,39.7 21,40.9 23,41.4 26,41.3 26,40.8 23.5,40.2 23,38.5 24,37.7 22.5,38.2 23,36.5 21.7,36.8 21,38.5"],
  ["Crete", "23.5,35.6 26.3,35.3 24.5,34.9"],
  ["Oman", "52,19 53,16.7 55,17 57.7,19 59.8,22.5 58.5,23.7 56.7,24.3 55.5,23.5 55.7,22"],
  ["India", "77,35.5 78.5,34.5 79,32.5 81,30.2 80,28.8 84,27.4 88,26.4 88.1,28 89,26.8 92,26.8 96,28.3 97,27 94,24 93,22 92,23.5 91.5,25 89.8,25.9 88.5,26 88.2,24.5 89,21.9 86.8,21 85,19.5 82,16.5 80.2,15.5 80.3,13 79.8,10.3 78,8.5 77.5,8 76,10.5 74.5,13.5 73,18 72.8,21 70,20.9 69,22.3 70,23.5 68.3,23.7 71,24.5 70,27.8 72.8,30 74.5,31.5 74.8,34"],
  ["Pakistan", "61,29.8 66,29.8 66.5,31 69,31.8 70,33.8 71.5,36 74.5,37 77,35.5 74.8,34 74.5,31.5 72.8,30 70,27.8 71,24.5 68.3,23.7 67,24.8 62,25 61.5,25 63,27"],
  ["Nepal", "80,28.8 81,30.2 84,28.8 88.1,28 88,26.4 84,27.4"],
  ["Bhutan", "89,26.8 89,28 92,28 92,26.8"],
  ["Bangladesh", "88.2,24.5 88.5,26 89.8,25.9 91.5,25 92,23.5 92.5,21 91,22.8 89,21.9"],
  ["Sri Lanka", "79.8,9.7 81.8,7.5 81,6 80,6"],
  ["Myanmar", "92.5,21 92,23.5 93,22 94,24 97,27 96,28.3 97.5,28.3 98.5,25 100,21.5 101,21.3 100.5,20 98,19 98,15 99,11 98.5,10 97.7,15 97,16.5 95,15.8 94.3,18"],
  ["Thailand", "98,19 100.5,20 101,19 102,18 104.5,17.5 105.5,15.5 105.5,14.5 102.5,13.6 102.5,12 100.8,13.4 100,12.5 99.5,10 100,8.5 102,6.2 100.5,6.3 98.3,8 98.7,10.5 99,11 98,15"],
  ["Peninsular Malaysia", "100.5,6.3 102,6.2 103.4,4.5 104.2,1.4 103.4,1.4 101,3"],
  ["Sarawak Sabah", "109.6,2 111.3,2.6 113,3.2 115,5 116.7,7 119,5 117.6,4.2 115.7,4.2 114.7,1.5 112,1.2 110,0.8"],
  ["Sumatra", "95.3,5.6 97.5,5.2 100.5,2.2 103.7,0 104.5,-1.9 106,-3 105.8,-5.8 104.5,-5.8 102,-4 100.3,-1 98.5,1.7"],
  ["Java", "105.3,-6.8 108.5,-6.7 110.8,-6.4 114.5,-7.8 114.4,-8.7 108,-7.8"],
  ["Kalimantan", "109.6,2 110,0.8 112,1.2 114.7,1.5 115.7,4.2 117.6,4.2 117.8,1 116,-3.5 114.5,-4 111.7,-3.2 110,-1.5 109,0.5"],
  ["Sulawesi", "119.5,-5.5 120.4,-2.8 120,0.8 124.8,1.3 123.5,0.4 121,0.3 122,-1 123,-1 121.5,-2 123,-4.5 121.6,-4.8 120.7,-3 120.4,-5.5"],
  ["Timor", "124,-10 127,-8.4 125,-8.8"],
  ["Flores", "119.8,-8.6 123,-8.3 122,-8.9"],
  ["Halmahera", "127.5,1.8 128.5,1 127.8,-0.8"],
  ["West Papua", "131,-0.8 134,-0.8 135,-3.3 137.5,-1.6 141,-2.6 141,-9.1 139,-8 138,-8.4 138,-5.5 133,-4 132,-2.8"],
  ["New Britain", "148.5,-5.5 152,-4.2 150,-6.3"],
  ["Honshu", "130.9,34 132,35.5 136,36 137,37 139.5,38.2 140,40.5 141.3,41.4 142,39.5 141,38 140.8,35.7 138,34.8 135.8,33.5 135,34.6 132.5,34"],
  ["Hokkaido", "140,41.5 140.4,43.3 141.7,45.4 145.3,43.8 143.3,42 141.3,42.6"],
  ["Kyushu", "130,33.5 131.7,33.3 131,31.2 130.2,31.4"],
  ["Shikoku", "132.3,33.5 134.5,34.2 133.5,33"],
  ["Australia", "114,-22 113.5,-24.5 114,-26 115,-31 115,-34.3 118,-35 120,-34 123.5,-33.9 126,-32.3 129,-31.6 131.5,-31.5 134,-32.5 136,-35 138,-33 138.5,-35.5 140.5,-38 143.5,-38.8 146.3,-39.1 150,-37.5 151,-33.7 153.5,-29 153,-25.5 149,-21 146,-18.8 145,-15 143.5,-14 142.5,-10.8 141.5,-13 141,-17 139,-17.5 135.5,-15 136.8,-12.2 133,-11.5 130,-12.5 129.5,-15 127,-14 125,-15.5 122,-18 119,-20"],
  ["Tasmania", "144.7,-40.7 148.3,-41 147.5,-43.5 146,-43.5"],
  ["NZ North", "172.7,-34.5 174.5,-36 175.5,-37 178.5,-37.7 177,-39.5 175.3,-41.6 173.5,-39.5 174.8,-37.8"],
  ["NZ South", "172.7,-40.5 174.3,-41.7 171,-44.5 169.7,-46.6 166.5,-46 170.5,-43"]
];

const noData = [
  ["Montenegro", "18.5,42.5 19.3,43.6 20.5,42.6 19.3,41.9"],
  ["Turkmenistan", "52.5,41.5 53,42 56,41.3 61,41.2 65,38.2 66.5,37.4 64,36 61,35.6 61,36.6 57,38 54,37.3 53.8,39"],
  ["Syria", "36,36.9 41.3,37 41,34.4 39,32.2 36,33.2 35.8,35.5"],
  ["Lebanon", "35.2,33.1 36,33.2 35.8,34.6"],
  ["Israel", "34.3,31.3 35,29.5 35.5,31.5 35.6,33.2 35,33"],
  ["Kuwait", "46.5,29.1 47.5,30 48.4,28.6"],
  ["Qatar", "51,24.6 51.6,25.8 51,26"],
  ["Cyprus", "32.3,35 34.5,35.6 33.5,34.7"],
  ["Somalia", "42.8,11 43.3,11.5 44.5,10.4 51,11.8 51,10.5 48,5 45,2 41.6,-1.6 41,-1.6 41,3.9 41.9,4 44.9,5 48,8 44,9"]
];

const legendLabels = ["All Open", "Partially closed", "All closed"];
const statusLists = [allOpen, partiallyClosed, allClosed, noData];
const statusColors = ["#38baff", "#1a7ab5", "#a6e1ff", "#e3e3e3"];
const titleText = "3G sunset status from 2027";
const captionLines = [
  "The 3G sunset map shows that many markets are expected to have completed or",
  "advanced 3G shutdowns by the end of 2027, although availability varies by country and operator."
];

const svg = d3.select("#chart");

// the map repeats sideways, the source image has these two shifts
const mapCopies = [-1310, 0, 1333];

const projection = d3.geoMercator()
    .scale(212.6)
    .translate([960, 833]);

const line = d3.line().curve(d3.curveLinearClosed);

function outline(coords) {
  return line(coords.split(" ").map(p => projection(p.split(",").map(Number))));
}

mapCopies.forEach(dx => {
  const copy = svg.append("g").attr("transform", `translate(${dx},0)`);
  statusLists.forEach((list, i) => {
    copy.append("g").selectAll("path")
      .data(list)
      .join("path")
        .attr("d", d => outline(d[1]))
        .attr("fill", statusColors[i])
        .attr("stroke", "#fff")
        .attr("stroke-width", 1)
        .attr("stroke-linejoin", "round");
  });
});

// header
svg.append("rect").attr("width", 1920).attr("height", 124).attr("fill", "#0b3757");
svg.append("text")
    .attr("x", 958.5).attr("y", 85)
    .attr("text-anchor", "middle")
    .attr("fill", "#fff")
    .attr("stroke", "#fff")
    .attr("stroke-width", 0.6)
    .style("font-size", "67.2px")
    .text(titleText);

// legend
const legend = svg.append("g");
legend.append("rect")
    .attr("x", 70).attr("y", 840).attr("width", 337).attr("height", 234)
    .attr("rx", 6)
    .attr("fill", "#fff")
    .attr("stroke", "#d5d5d5")
    .style("filter", "drop-shadow(6px 6px 5px rgba(0,0,0,0.3))");
legend.append("text")
    .attr("x", 83).attr("y", 871)
    .attr("fill", "#444")
    .style("font-size", "20.4px")
    .text("Colorscheme");
legend.append("line")
    .attr("x1", 83).attr("x2", 395).attr("y1", 891).attr("y2", 891)
    .attr("stroke", "#999").attr("stroke-width", 1.5);

const legendY = d3.scalePoint().domain(legendLabels).range([906, 1006]);
legend.selectAll("rect.swatch")
  .data(legendLabels)
  .join("rect")
    .attr("class", "swatch")
    .attr("x", (d, i) => i === 2 ? 88 : 86)
    .attr("y", d => legendY(d))
    .attr("width", 37).attr("height", 36)
    .attr("rx", 4)
    .attr("fill", (d, i) => statusColors[i]);
legend.selectAll("text.item")
  .data(legendLabels)
  .join("text")
    .attr("class", "item")
    .attr("x", 135)
    .attr("y", d => legendY(d) + 26)
    .attr("fill", "#444")
    .style("font-size", "28.6px")
    .text(d => d);

// caption and source
svg.selectAll("text.caption")
  .data(captionLines)
  .join("text")
    .attr("class", "caption")
    .attr("x", 958)
    .attr("y", (d, i) => 1185 + i * 45)
    .attr("text-anchor", "middle")
    .attr("fill", "#444")
    .style("font-size", "38.1px")
    .style("font-style", "italic")
    .text(d => d);
svg.append("text")
    .attr("x", 70).attr("y", 1284)
    .attr("fill", "#444")
    .style("font-size", "27px")
    .style("font-style", "italic")
    .text("Source: Telenor IoT");

// logo
const logo = svg.append("g").attr("transform", "translate(1741.5,1276.5)");
logo.append("circle").attr("r", 20).attr("fill", "none").attr("stroke", "#0b3757").attr("stroke-width", 2.5);
logo.append("path")
    .attr("d", d3.arc()({ innerRadius: 11, outerRadius: 15, startAngle: Math.PI * 0.78, endAngle: Math.PI * 2.22 }))
    .attr("fill", "#0b3757");
svg.append("text")
    .attr("x", 1767).attr("y", 1286)
    .attr("fill", "#0b3757")
    .style("font-family", "Inter, sans-serif")
    .style("font-size", "25px")
    .style("letter-spacing", "0.6px")
    .text("Cavli Inc");
</script>
</body>
</html>
